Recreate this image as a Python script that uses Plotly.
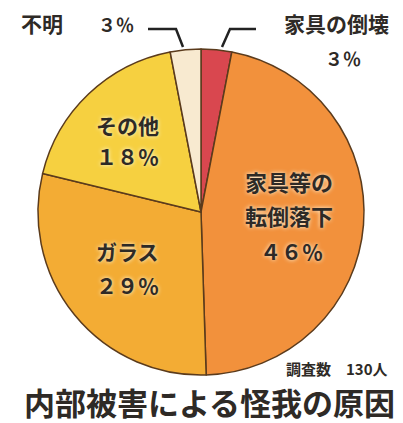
import plotly.graph_objects as go

categories = ["家具の倒壊", "家具等の転倒落下", "ガラス", "その他", "不明"]
values = [3, 46, 29, 18, 3]
pct_labels = ["３％", "４６％", "２９％", "１８％", "３％"]
colors = ["#d9474f", "#f2913c", "#f3ac34", "#f6d040", "#f8ead0"]
note_text = "調査数　130人"
title_text = "内部被害による怪我の原因"

W, H = 403, 423


def px(x, y):
    return x / W, 1 - y / H


fig = go.Figure()
fig.add_trace(go.Pie(
    labels=categories,
    values=values,
    sort=False,
    direction="clockwise",
    rotation=0,
    marker=dict(colors=colors, line=dict(color="#5b3b1c", width=1.5)),
    textinfo="none",
    hoverinfo="label+percent",
    showlegend=False,
    domain=dict(x=[30 / W, 356 / W], y=[1 - 368 / H, 1 - 40 / H]),
))

FONT = "Noto Sans CJK JP"
ink = "#2e2a26"
glow = "0px 0px 4px #fffbe8"

annotations = []


def add_text(x, y, text, size, shadow=None, xanchor="center"):
    # compensate for CJK font vertical offset
    fx, fy = px(x, y - 0.35 * size)
    f = dict(family=FONT, size=size, color=ink, weight="bold")
    if shadow:
        f["shadow"] = shadow
    annotations.append(dict(x=fx, y=fy, xref="paper", yref="paper", text=text,
                            showarrow=False, font=f, xanchor=xanchor, yanchor="middle"))


# inside labels
add_text(281, 181, "家具等の", 22, glow)
add_text(281, 215, "転倒落下", 22, glow)
add_text(283, 250, pct_labels[1], 21, glow)
add_text(120, 250, categories[2], 21, glow)
add_text(120, 284, pct_labels[2], 21, glow)
add_text(120, 124, categories[3], 21, glow)
add_text(120, 155, pct_labels[3], 21, glow)

# outside labels
add_text(34, 22, categories[4], 21)
add_text(108, 22, pct_labels[4], 18)
add_text(328, 22, categories[0], 21)
add_text(335, 56, pct_labels[0], 18)

# note and title
add_text(329, 366, note_text, 15)
add_text(201, 404, title_text, 31)

shapes = []


def add_path(points):
    path = ""
    for i, (x, y) in enumerate(points):
        fx, fy = px(x, y)
        path += ("M" if i == 0 else "L") + f"{fx},{fy} "
    shapes.append(dict(type="path", xref="paper", yref="paper", path=path.strip(),
                       line=dict(color="#222", width=2.5)))


add_path([(140, 21), (168, 21), (175, 39)])
add_path([(248, 21), (222, 21), (214, 39)])

fig.update_layout(
    width=W, height=H,
    margin=dict(l=0, r=0, t=0, b=0),
    paper_bgcolor="white",
    plot_bgcolor="white",
    annotations=annotations,
    shapes=shapes,
)

fig.write_html("out.html")
